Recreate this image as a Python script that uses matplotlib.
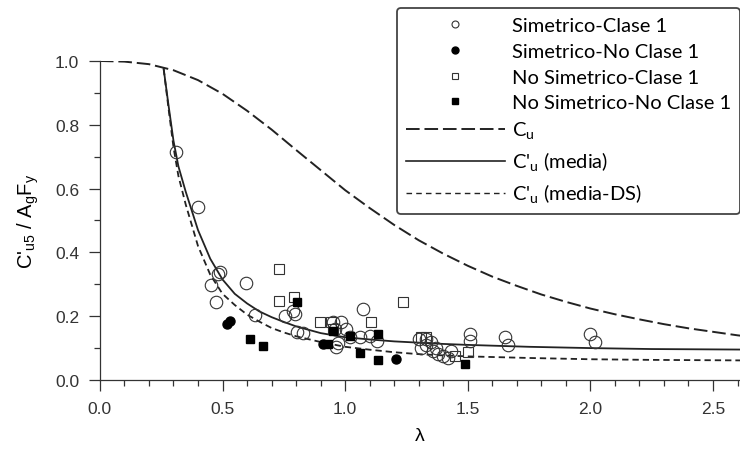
import matplotlib.pyplot as plt
from matplotlib.lines import Line2D
from matplotlib.ticker import MultipleLocator

# data: lambda, C'u5/AgFy
sim_c1_x = [0.31, 0.40, 0.482, 0.49, 0.455, 0.475, 0.595, 0.632, 0.754, 0.788, 0.795, 0.802, 0.828,
            0.951, 0.985, 0.958, 1.005, 1.019, 0.964, 0.971, 1.06, 1.10, 1.128, 1.073,
            1.30, 1.33, 1.31, 1.33, 1.36, 1.38, 1.40, 1.42, 1.35, 1.37, 1.43,
            1.508, 1.508, 1.650, 1.664, 1.997, 2.017]
sim_c1_y = [0.714, 0.541, 0.332, 0.338, 0.298, 0.243, 0.303, 0.204, 0.202, 0.217, 0.207, 0.150, 0.147,
            0.181, 0.183, 0.160, 0.160, 0.134, 0.102, 0.115, 0.134, 0.139, 0.123, 0.221,
            0.130, 0.130, 0.100, 0.110, 0.090, 0.080, 0.075, 0.070, 0.120, 0.100, 0.090,
            0.144, 0.123, 0.134, 0.110, 0.144, 0.118]

sim_nc1_x = [0.52, 0.532, 0.91, 1.209]
sim_nc1_y = [0.176, 0.186, 0.112, 0.066]

nsim_c1_x = [0.731, 0.731, 0.791, 0.897, 0.944, 0.951, 1.107, 1.236, 1.31, 1.33, 1.447, 1.50]
nsim_c1_y = [0.348, 0.249, 0.259, 0.181, 0.181, 0.160, 0.181, 0.244, 0.135, 0.135, 0.076, 0.087]

nsim_nc1_x = [0.611, 0.666, 0.804, 0.93, 0.95, 1.019, 1.059, 1.134, 1.134, 1.487]
nsim_nc1_y = [0.129, 0.108, 0.245, 0.113, 0.155, 0.139, 0.085, 0.144, 0.064, 0.050]

# curves
cu_x = [0.0, 0.1, 0.2, 0.3, 0.4, 0.5, 0.6, 0.7, 0.8, 0.9, 1.0, 1.1, 1.2, 1.3, 1.4, 1.5,
        1.6, 1.7, 1.8, 1.9, 2.0, 2.1, 2.2, 2.3, 2.4, 2.5, 2.6, 2.7]
cu_y = [1.0, 0.998, 0.990, 0.971, 0.940, 0.897, 0.844, 0.785, 0.721, 0.658, 0.595, 0.539, 0.486,
        0.438, 0.396, 0.358, 0.324, 0.295, 0.268, 0.245, 0.224, 0.206, 0.190, 0.175, 0.162,
        0.151, 0.140, 0.131]

media_x = [0.26, 0.28, 0.30, 0.32, 0.35, 0.40, 0.45, 0.50, 0.55, 0.60, 0.65, 0.70, 0.75, 0.80,
           0.90, 1.00, 1.10, 1.20, 1.30, 1.40, 1.50, 1.75, 2.00, 2.25, 2.70]
media_y = [0.975, 0.86, 0.75, 0.67, 0.59, 0.47, 0.38, 0.315, 0.27, 0.24, 0.215, 0.197, 0.182,
           0.168, 0.147, 0.134, 0.127, 0.121, 0.117, 0.113, 0.110, 0.104, 0.100, 0.097, 0.095]

ds_x = [0.26, 0.28, 0.30, 0.32, 0.35, 0.40, 0.45, 0.50, 0.55, 0.60, 0.65, 0.70, 0.75, 0.80,
        0.90, 1.00, 1.10, 1.20, 1.30, 1.40, 1.50, 1.75, 2.00, 2.25, 2.70]
ds_y = [0.975, 0.85, 0.73, 0.64, 0.55, 0.42, 0.33, 0.27, 0.235, 0.205, 0.183, 0.163, 0.149,
        0.137, 0.119, 0.104, 0.095, 0.087, 0.081, 0.077, 0.074, 0.069, 0.065, 0.063, 0.061]

plt.rcParams['font.family'] = ['Liberation Sans', 'DejaVu Sans']

fig = plt.figure(figsize=(7.4, 4.56), dpi=100)
ax = fig.add_axes([0.135, 0.1645, 0.865, 0.6996])

edge = '#333333'
ax.plot(cu_x, cu_y, color='#222222', lw=1.4, dashes=(7, 2.5), zorder=2)
ax.plot(media_x, media_y, color='#222222', lw=1.3, zorder=2)
ax.plot(ds_x, ds_y, color='#222222', lw=1.3, dashes=(3.5, 2.2), zorder=2)

ax.plot(sim_c1_x, sim_c1_y, 'o', ms=9, mfc='none', mec=edge, mew=0.8, zorder=3)
ax.plot(nsim_c1_x, nsim_c1_y, 's', ms=7, mfc='none', mec=edge, mew=0.8, zorder=3)
ax.plot(sim_nc1_x, sim_nc1_y, 'o', ms=6.5, mfc='black', mec='black', zorder=3)
ax.plot(nsim_nc1_x, nsim_nc1_y, 's', ms=6, mfc='black', mec='black', zorder=3)

ax.set_xlim(0, 2.61)
ax.set_ylim(0, 1.0)
ax.xaxis.set_major_locator(MultipleLocator(0.5))
ax.xaxis.set_minor_locator(MultipleLocator(0.1))
ax.yaxis.set_major_locator(MultipleLocator(0.2))
ax.yaxis.set_minor_locator(MultipleLocator(0.1))
ax.xaxis.set_major_formatter(lambda v, p: f'{v:.1f}')
ax.yaxis.set_major_formatter(lambda v, p: f'{v:.1f}')
ax.tick_params(which='major', direction='out', length=8, width=0.9, labelsize=12.5, colors='#333333', pad=7)
ax.tick_params(which='minor', direction='out', length=4, width=0.9, colors='#333333')
for s in ['top', 'right']:
    ax.spines[s].set_visible(False)
for s in ['left', 'bottom']:
    ax.spines[s].set_color('#333333')
    ax.spines[s].set_linewidth(0.9)

ax.set_xlabel('λ', fontsize=14, labelpad=8)
ax.set_ylabel("C'$_\\mathregular{u5}$ / A$_\\mathregular{g}$F$_\\mathregular{y}$", fontsize=14.5, labelpad=10)

# legend with proxy handles
handles = [
    Line2D([], [], ls='none', marker='o', ms=5, mfc='none', mec=edge, mew=0.8),
    Line2D([], [], ls='none', marker='o', ms=5, mfc='black', mec='black'),
    Line2D([], [], ls='none', marker='s', ms=4.5, mfc='none', mec=edge, mew=0.8),
    Line2D([], [], ls='none', marker='s', ms=4.5, mfc='black', mec='black'),
    Line2D([], [], color='#222222', lw=1.4, dashes=(7, 2.5)),
    Line2D([], [], color='#222222', lw=1.2),
    Line2D([], [], color='#222222', lw=1.0, dashes=(4, 3)),
]
labels = ['Simetrico-Clase 1', 'Simetrico-No Clase 1', 'No Simetrico-Clase 1',
          'No Simetrico-No Clase 1', 'C$_\\mathregular{u}$', "C'$_\\mathregular{u}$ (media)",
          "C'$_\\mathregular{u}$ (media-DS)"]
leg = ax.legend(handles, labels, loc='upper left', bbox_to_anchor=(397 / 740, 1 - 9 / 456),
                bbox_transform=fig.transFigure, borderaxespad=0, handlelength=4.9,
                handletextpad=0.35, labelspacing=0.43, borderpad=0.45, fancybox=True,
                framealpha=1, edgecolor='#444444', prop={'family': ['Lato', 'DejaVu Sans'], 'size': 14.5})
leg.get_frame().set_linewidth(1.3)
leg.set_zorder(5)

fig.savefig('out.png', dpi=100)
